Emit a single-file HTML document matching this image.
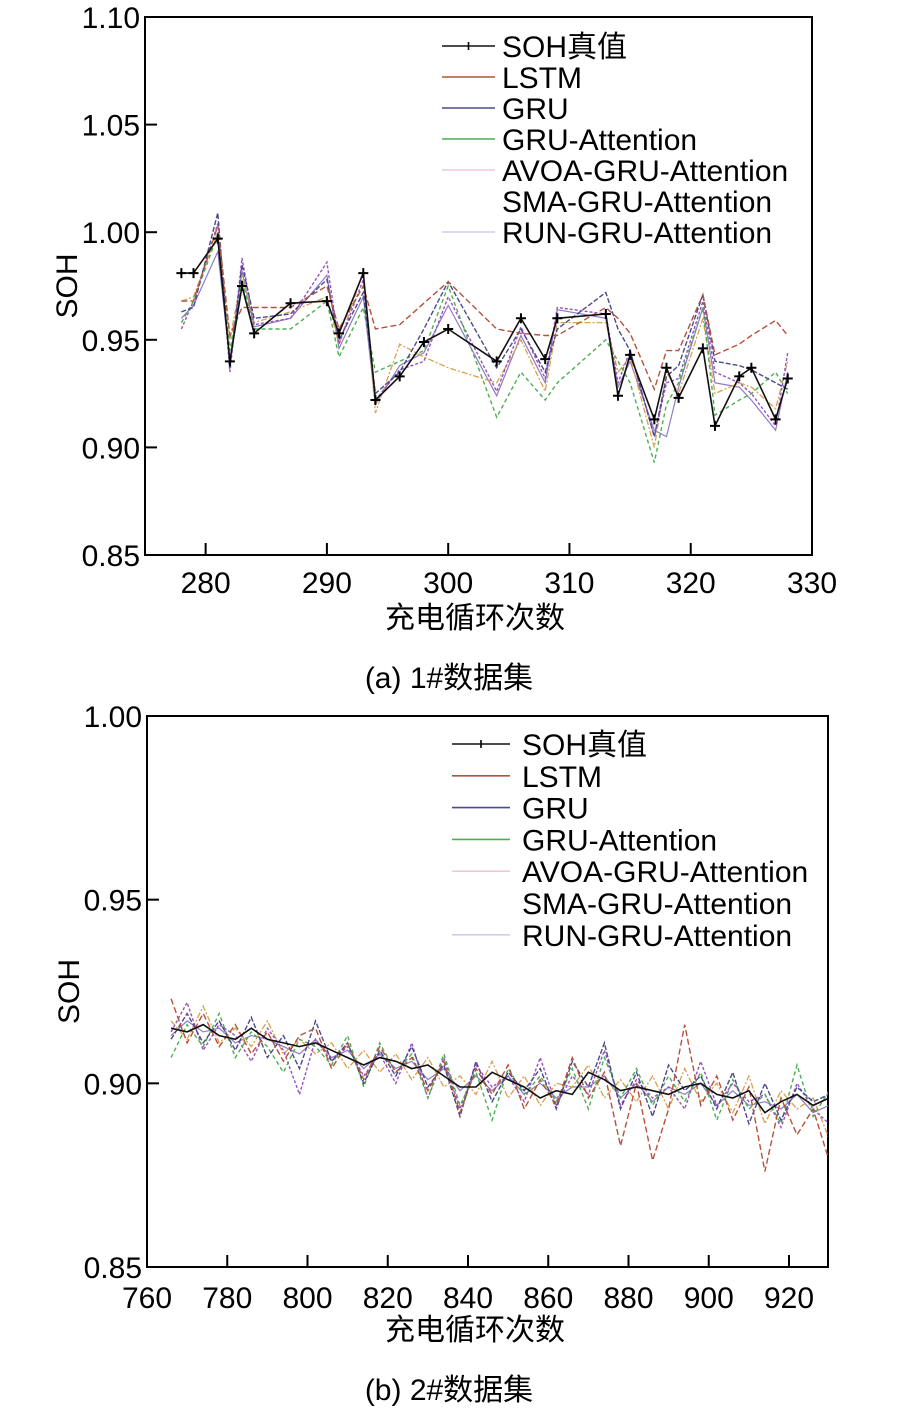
<!DOCTYPE html>
<html><head><meta charset="utf-8"><style>
body{margin:0;background:#fff;}
svg{display:block;font-family:"Liberation Sans","Noto Sans CJK SC",sans-serif;}
</style></head><body>
<svg id="fig" width="898" height="1411"></svg>
<script>
// ---- Chart (a) data ----
const xA = [278,279,281,282,283,284,287,290,291,293,294,296,298,300,304,306,308,309,313,314,315,317,318,319,321,322,324,325,327,328];
const trueA = [0.981,0.981,0.997,0.940,0.975,0.953,0.967,0.968,0.953,0.981,0.922,0.933,0.949,0.955,0.940,0.960,0.941,0.960,0.962,0.924,0.943,0.913,0.937,0.923,0.946,0.910,0.933,0.937,0.913,0.932];
const lstmA = [0.968,0.968,1.003,0.952,0.965,0.965,0.965,0.975,0.955,0.975,0.955,0.957,0.967,0.977,0.955,0.953,0.952,0.952,0.965,0.960,0.953,0.927,0.945,0.945,0.971,0.943,0.948,0.952,0.959,0.952];
const gruA = [0.963,0.965,1.009,0.937,0.985,0.960,0.962,0.978,0.950,0.972,0.925,0.935,0.955,0.977,0.937,0.955,0.935,0.955,0.972,0.955,0.945,0.905,0.933,0.938,0.971,0.940,0.938,0.936,0.930,0.927];
const gattA = [0.958,0.968,0.999,0.945,0.978,0.955,0.955,0.968,0.942,0.965,0.935,0.940,0.945,0.975,0.914,0.935,0.922,0.930,0.950,0.940,0.930,0.893,0.920,0.930,0.965,0.915,0.922,0.925,0.935,0.925];
const avoaA = [0.968,0.970,1.000,0.950,0.980,0.958,0.963,0.970,0.948,0.982,0.916,0.948,0.942,0.937,0.930,0.950,0.926,0.958,0.958,0.935,0.942,0.900,0.935,0.925,0.960,0.925,0.930,0.928,0.918,0.940];
const smaA = [0.955,0.968,1.004,0.935,0.988,0.957,0.960,0.986,0.948,0.978,0.922,0.936,0.940,0.970,0.926,0.956,0.932,0.965,0.962,0.930,0.945,0.905,0.930,0.932,0.968,0.935,0.930,0.925,0.910,0.944];
const runA = [0.960,0.966,0.991,0.940,0.982,0.956,0.960,0.980,0.946,0.970,0.920,0.938,0.944,0.966,0.924,0.952,0.930,0.964,0.960,0.928,0.940,0.908,0.905,0.928,0.965,0.930,0.928,0.922,0.908,0.935];
const xTicksA = [280,290,300,310,320,330];
const yTicksA = [0.85,0.90,0.95,1.00,1.05,1.10];
// ---- Chart (b) data ----
const xB = [766,770,774,778,782,786,790,794,798,802,806,810,814,818,822,826,830,834,838,842,846,850,854,858,862,866,870,874,878,882,886,890,894,898,902,906,910,914,918,922,926,930];
const trueB = [0.915,0.914,0.916,0.913,0.912,0.915,0.912,0.911,0.910,0.911,0.909,0.907,0.905,0.907,0.906,0.904,0.905,0.902,0.899,0.899,0.903,0.901,0.899,0.896,0.898,0.897,0.903,0.901,0.898,0.899,0.898,0.897,0.899,0.900,0.897,0.896,0.898,0.892,0.895,0.897,0.894,0.896];
const lstmB = [0.923,0.911,0.919,0.910,0.916,0.908,0.914,0.906,0.913,0.915,0.904,0.911,0.901,0.910,0.903,0.907,0.898,0.906,0.892,0.904,0.897,0.905,0.893,0.901,0.894,0.907,0.896,0.903,0.883,0.900,0.879,0.893,0.916,0.894,0.902,0.890,0.899,0.876,0.896,0.886,0.893,0.879];
const gruB = [0.912,0.919,0.911,0.917,0.909,0.918,0.907,0.913,0.904,0.917,0.906,0.911,0.900,0.909,0.902,0.910,0.899,0.905,0.891,0.906,0.895,0.903,0.898,0.904,0.893,0.906,0.899,0.911,0.893,0.903,0.891,0.905,0.898,0.902,0.893,0.903,0.889,0.900,0.890,0.899,0.895,0.897];
const gattB = [0.907,0.916,0.910,0.919,0.907,0.914,0.910,0.903,0.912,0.910,0.905,0.913,0.899,0.911,0.903,0.908,0.896,0.908,0.894,0.903,0.890,0.904,0.897,0.902,0.895,0.904,0.893,0.907,0.896,0.904,0.894,0.902,0.895,0.903,0.890,0.901,0.893,0.897,0.889,0.905,0.891,0.898];
const avoaB = [0.917,0.912,0.921,0.911,0.915,0.910,0.917,0.908,0.912,0.908,0.911,0.904,0.909,0.903,0.908,0.901,0.907,0.899,0.902,0.897,0.906,0.896,0.902,0.894,0.900,0.899,0.905,0.896,0.901,0.895,0.902,0.893,0.904,0.895,0.900,0.892,0.902,0.889,0.898,0.893,0.896,0.885];
const smaB = [0.914,0.922,0.909,0.916,0.913,0.906,0.915,0.909,0.897,0.912,0.906,0.910,0.902,0.908,0.900,0.911,0.896,0.907,0.893,0.905,0.899,0.902,0.895,0.907,0.894,0.902,0.897,0.909,0.894,0.901,0.896,0.899,0.893,0.906,0.894,0.900,0.895,0.897,0.888,0.900,0.893,0.889];
const runB = [0.913,0.917,0.914,0.915,0.911,0.913,0.912,0.910,0.908,0.912,0.907,0.909,0.904,0.908,0.904,0.906,0.901,0.904,0.898,0.902,0.898,0.902,0.897,0.900,0.896,0.899,0.899,0.902,0.896,0.900,0.895,0.899,0.897,0.900,0.894,0.898,0.894,0.895,0.893,0.897,0.892,0.894];
const xTicksB = [760,780,800,820,840,860,880,900,920];
const yTicksB = [0.85,0.90,0.95,1.00];
const seriesNames = ["SOH真值","LSTM","GRU","GRU-Attention","AVOA-GRU-Attention","SMA-GRU-Attention","RUN-GRU-Attention"];

const NS="http://www.w3.org/2000/svg";
const svg=document.getElementById('fig');
function mk(tag,attrs,parent){const e=document.createElementNS(NS,tag);for(const k in attrs)e.setAttribute(k,attrs[k]);(parent||svg).appendChild(e);return e;}

const styles=[
 {c:"#111",w:1.6,d:""},
 {c:"#b5523b",w:1.4,d:"6 3"},
 {c:"#4a4a8c",w:1.4,d:"5 2"},
 {c:"#4caf50",w:1.4,d:"4 3"},
 {c:"#d9a050",w:1.3,d:"6 2 2 2"},
 {c:"#9b4fc0",w:1.4,d:"3 2"},
 {c:"#8e7cc3",w:1.2,d:""}
];
const legendColors=["#111","#b5523b","#4a4a8c","#4caf50","#f0c8d4","#ffffff","#d4ccec"];
const FS=30;

function chart(cfg){
 const g=mk('g',{});
 
 
 const sx=v=>cfg.L+(v-cfg.x0)/(cfg.x1-cfg.x0)*(cfg.R-cfg.L);
 const sy=v=>cfg.B-(v-cfg.y0)/(cfg.y1-cfg.y0)*(cfg.B-cfg.T);
 const fr=mk('rect',{x:cfg.L,y:cfg.T,width:cfg.R-cfg.L,height:cfg.B-cfg.T,fill:"none",stroke:"#000","stroke-width":2},g);
 
 
 cfg.xt.forEach(t=>{const x=sx(t);
  const l=mk('line',{x1:x,x2:x,y1:cfg.B,y2:cfg.B-12,stroke:"#000","stroke-width":2},g);
  
  
  const tx=mk('text',{x:x,y:cfg.B+cfg.xlOff,"text-anchor":"middle","font-size":FS},g);tx.textContent=t;
  
  });
 cfg.yt.forEach(t=>{const y=sy(t);
  const l=mk('line',{x1:cfg.L,x2:cfg.L+12,y1:y,y2:y,stroke:"#000","stroke-width":2},g);
  
  
  const tx=mk('text',{x:cfg.L-5,y:y+11,"text-anchor":"end","font-size":FS},g);tx.textContent=t.toFixed(2);
  
  });
 const yl=mk('text',{x:0,y:0,"font-size":FS,"text-anchor":"middle",transform:`translate(${cfg.L-68},${(cfg.T+cfg.B)/2}) rotate(-90)`},g);yl.textContent="SOH";
 
 
 const xl=mk('text',{x:cfg.xlX,y:cfg.B+73,"text-anchor":"middle","font-size":FS},g);xl.textContent="充电循环次数";
 
 
 const cap=mk('text',{x:449,y:cfg.capY,"text-anchor":"middle","font-size":FS},g);cap.textContent=cfg.cap;
 
 
 const clip=mk('clipPath',{id:cfg.name+'-clip'},g);mk('rect',{x:cfg.L,y:cfg.T,width:cfg.R-cfg.L,height:cfg.B-cfg.T},clip);
 const order=[6,4,5,3,2,1,0];
 order.forEach(i=>{const s=styles[i];const vals=cfg.series[i];
  const d=vals.map((v,j)=>(j?'L':'M')+sx(cfg.xs[j]).toFixed(1)+','+sy(v).toFixed(1)).join(' ');
  const p=mk('path',{d:d,fill:"none",stroke:s.c,"stroke-width":s.w,"stroke-dasharray":s.d,"clip-path":`url(#${cfg.name}-clip)`},g);
  
  
  if(i===0&&cfg.markers){vals.forEach((v,j)=>{const x=sx(cfg.xs[j]),y=sy(v);
   const m=mk('path',{d:`M${x-5},${y}H${x+5}M${x},${y-5}V${y+5}`,stroke:"#000","stroke-width":2},g);
   
   });}
 });
 seriesNames.forEach((n,i)=>{const y=cfg.legY+i*cfg.legStep;
  const l=mk('line',{x1:cfg.legX,x2:cfg.legX+cfg.legLen,y1:y,y2:y,stroke:legendColors[i],"stroke-width":1.6},g);
  
  
  if(i===0){const m=mk('path',{d:`M${cfg.legX+cfg.legLen/2},${y-4}V${y+4}`,stroke:"#000","stroke-width":1.6},g);
   
   }
  const t=mk('text',{x:cfg.legX+cfg.legLen+cfg.legGap,y:y+11,"font-size":FS},g);t.textContent=n;
  
  });
}
chart({name:'chart-a',L:145,R:812,T:17,B:555,x0:275,x1:330,y0:0.85,y1:1.10,xt:xTicksA,yt:yTicksA,xs:xA,xlOff:38,xlX:475,
 series:[trueA,lstmA,gruA,gattA,avoaA,smaA,runA],markers:true,cap:"(a) 1#数据集",capY:688,legX:442,legLen:53,legGap:7,legY:46,legStep:31});
chart({name:'chart-b',L:147,R:828,T:716,B:1267,x0:760,x1:760+(828-147)/4.0125,y0:0.85,y1:1.00,xt:xTicksB,yt:yTicksB,xs:xB,xlOff:41,xlX:475,
 series:[trueB,lstmB,gruB,gattB,avoaB,smaB,runB],markers:false,cap:"(b) 2#数据集",capY:1400,legX:452,legLen:58,legGap:12,legY:744,legStep:31.8});
</script>
</body></html>
